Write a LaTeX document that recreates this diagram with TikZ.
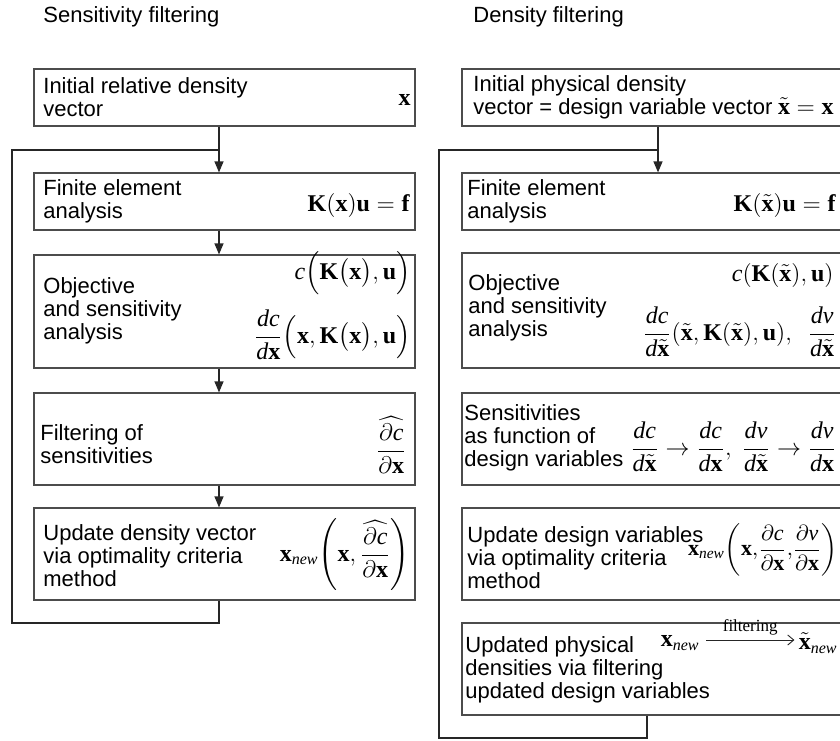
\documentclass[tikz,border=0pt]{standalone}
\usepackage{amsmath}
\usepackage{fontspec}
\setmainfont{Liberation Serif}
\newfontfamily\sansfont{Liberation Sans}
\usepackage{tikz}
\usetikzlibrary{arrows.meta,positioning}
\newcommand{\vb}[1]{\text{\normalfont\bfseries #1}}
\newcommand{\vi}[1]{\text{\normalfont\itshape #1}}
\tikzset{>={Triangle[length=5.5pt,width=4.5pt]},
	box/.style={draw=black!70,line width=0.6pt,minimum width=190.5pt,minimum height=#1,inner sep=0pt},
	txt/.style={font=\sansfont\fontsize{11}{11.5}\selectfont,align=left,inner sep=0pt,anchor=west},
	head/.style={font=\sansfont\fontsize{11}{13}\selectfont,inner sep=0pt,anchor=west},
	frm/.style={font=\fontsize{12}{14}\selectfont,inner sep=0pt,anchor=east},
	link/.style={draw=black!85,line width=0.6pt},
	farrow/.style={draw=black!85,line width=0.45pt,-{Straight Barb[length=3pt,width=5pt]}},
	flabel/.style={font=\fontsize{8.5}{9}\selectfont,inner sep=2pt}}

\begin{document}
\begin{tikzpicture}[x=0.5pt,y=-0.5pt]
	\useasboundingbox (0,0) rectangle (840,740);
	\clip (0,0) rectangle (840,740);
	\node (Sh) at (43,17) [head] {Sensitivity filtering};
	\node (Dh) at (473,17) [head] {Density filtering};
	\node (S1) at (224.5,97.5) [box=28.5pt] {};
	\node (S2) at (224.5,201.5) [box=28.5pt] {};
	\node (S3) at (224.5,311.5) [box=56.5pt] {};
	\node (S4) at (224.5,439) [box=46pt] {};
	\node (S5) at (224.5,554) [box=46pt] {};
	\node (D1) at (652.5,97.5) [box=28.5pt] {};
	\node (D2) at (652.5,201.5) [box=28.5pt] {};
	\node (D3) at (652.5,310.5) [box=57.5pt] {};
	\node (D4) at (652.5,439) [box=46pt] {};
	\node (D5) at (652.5,554) [box=46pt] {};
	\node (D6) at (652.5,669) [box=46pt] {};
	\node (S1t) at (43,97.5) [txt] {Initial relative density\\vector};
	\node (S2t) at (43,201.5) [txt] {Finite element\\analysis};
	\node (S3t) at (43,311) [txt] {Objective\\and sensitivity\\analysis};
	\node (S4t) at (40,444) [txt] {Filtering of\\sensitivities};
	\node (S5t) at (43,556) [txt] {Update density vector\\via optimality criteria\\method};
	\node (D1t) at (473,97.5) [txt] {Initial physical density\\vector = design variable vector};
	\node (D2t) at (467,201.5) [txt] {Finite element\\analysis};
	\node (D3t) at (468,308) [txt] {Objective\\and sensitivity\\analysis};
	\node (D4t) at (464,438) [txt] {Sensitivities\\as function of\\design variables};
	\node (D5t) at (467,558) [txt] {Update design variables\\via optimality criteria\\method};
	\node (D6t) at (465,670) [txt] {Updated physical\\densities via filtering\\updated design variables};
	\node (S1f) at (411,100) [frm] {$\vb{x}$};
	\node (S2f) at (410,205) [frm] {$\vb{K}(\vb{x})\vb{u}=\vb{f}$};
	\node (S3f) at (411,273) [frm] {$\vi{c}\Bigl(\vb{K}\bigl(\vb{x}\bigr),\vb{u}\Bigr)$};
	\node (S3g) at (411,335) [frm] {$\dfrac{\vi{dc}}{\vi{d}\vb{x}}\Bigl(\vb{x},\vb{K}\bigl(\vb{x}\bigr),\vb{u}\Bigr)$};
	\node (S4f) at (407,445) [frm] {$\dfrac{\widehat{\partial\vi{c}}}{\partial\vb{x}}$};
	\node (S5f) at (410,555) [frm] {$\vb{x}_{\vi{new}}\!\left(\vb{x},\dfrac{\widehat{\partial\vi{c}}}{\partial\vb{x}}\right)$};
	\node (D1f) at (834,106) [frm] {$\tilde{\vb{x}}=\vb{x}$};
	\node (D2f) at (836,205) [frm] {$\vb{K}(\tilde{\vb{x}})\vb{u}=\vb{f}$};
	\node (D3f) at (834,275) [frm] {$\vi{c}(\vb{K}(\tilde{\vb{x}}),\vb{u})$};
	\node (D3g) at (837,332) [frm] {$\dfrac{\vi{dc}}{\vi{d}\tilde{\vb{x}}}(\tilde{\vb{x}},\vb{K}(\tilde{\vb{x}}),\vb{u}),\ \ \dfrac{\vi{dv}}{\vi{d}\tilde{\vb{x}}}$};
	\node (D4f) at (837,447) [frm] {$\dfrac{\vi{dc}}{\vi{d}\tilde{\vb{x}}}\to\dfrac{\vi{dc}}{\vi{d}\vb{x}},\ \dfrac{\vi{dv}}{\vi{d}\tilde{\vb{x}}}\to\dfrac{\vi{dv}}{\vi{d}\vb{x}}$};
	\node (D5f) at (838,550) [frm,font=\fontsize{11}{13}\selectfont] {$\vb{x}_{\vi{new}}\!\left(\vb{x},\!\dfrac{\partial\vi{c}}{\partial\vb{x}},\!\dfrac{\partial\vi{v}}{\partial\vb{x}}\right)$};
	\node (D6a) at (700,643) [frm] {$\vb{x}_{\vi{new}}$};
	\node (D6b) at (838,643) [frm] {$\tilde{\vb{x}}_{\vi{new}}$};
	\draw[farrow] ([xshift=3pt,yshift=1.5pt]D6a.east) -- node (D6l) [above,flabel] {filtering} ([xshift=-2pt,yshift=1.5pt]D6b.west);
	\coordinate (sx) at (219,0);
	\coordinate (dx) at (658,0);
	\coordinate (dxb) at (647,0);
	\coordinate (Sj) at (219,150);
	\coordinate (Sl) at (12,623);
	\coordinate (Dj) at (658,150);
	\coordinate (Dl) at (439,738);
	\draw[link,->] (S1.south -| sx) -- (S2.north -| sx);
	\draw[link,->] (S2.south -| sx) -- (S3.north -| sx);
	\draw[link,->] (S3.south -| sx) -- (S4.north -| sx);
	\draw[link,->] (S4.south -| sx) -- (S5.north -| sx);
	\draw[link] (S5.south -| sx) |- (Sl) |- (Sj);
	\draw[link,->] (D1.south -| dx) -- (D2.north -| dx);
	\draw[link] (D6.south -| dxb) |- (Dl) |- (Dj);
\end{tikzpicture}
\end{document}
